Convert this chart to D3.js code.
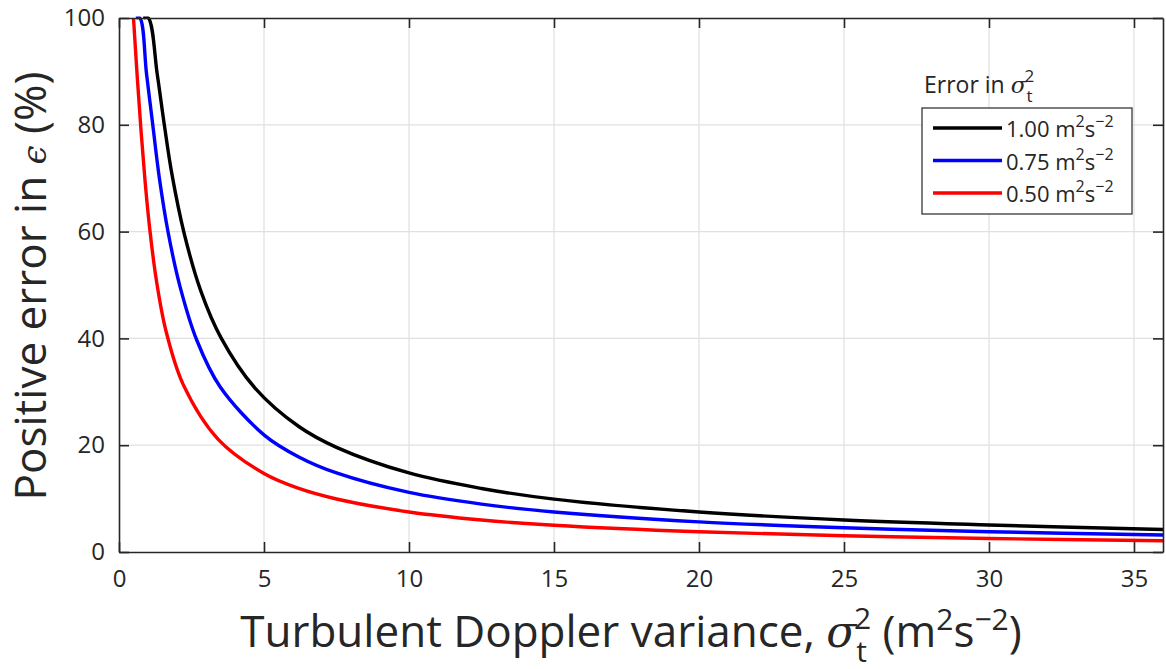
<!DOCTYPE html>
<html>
<head>
<meta charset="utf-8">
<script src="https://cdn.jsdelivr.net/npm/d3@7"></script>
<style>
  body { margin: 0; background: #fff; }
  text { font-family: "Open Sans", "DejaVu Sans", sans-serif; fill: #262626; }
</style>
</head>
<body>
<div id="chart"></div>
<script>
// values
const xTicks = [0, 5, 10, 15, 20, 25, 30, 35];
const yTicks = [0, 20, 40, 60, 80, 100];

const blackX = [0.84, 1.01, 1.32, 1.56, 1.82, 2.25, 2.82, 3.51, 4.69, 6.2, 7.5, 10, 12.5, 15, 20, 25, 30, 36];
const blackY = [100, 100, 89.4, 80.1, 70.9, 59.6, 48.9, 40.2, 30.7, 23.5, 19.6, 14.8, 11.9, 9.9, 7.5, 6.0, 5.07, 4.2];
const blueX = [0.59, 0.72, 0.95, 1.16, 1.39, 1.70, 2.10, 2.68, 3.48, 5.03, 6.2, 7.5, 10, 12.5, 15, 20, 25, 30, 36];
const blueY = [100, 100, 89.5, 80.2, 70.1, 59.7, 49.8, 39.7, 31.0, 21.8, 17.8, 14.8, 11.15, 8.96, 7.5, 5.65, 4.54, 3.8, 3.18];
const redX = [0.5, 0.63, 0.76, 0.90, 1.05, 1.28, 1.62, 2.22, 3.42, 5, 6.2, 7.5, 10, 12.5, 15, 20, 25, 30, 36];
const redY = [100, 88.9, 78.9, 69.4, 61, 51.2, 41.4, 31.3, 21.1, 14.7, 11.9, 9.93, 7.5, 6.0, 5.0, 3.78, 3.04, 2.53, 2.11];

const seriesNames = ["1.00", "0.75", "0.50"];
const seriesColors = ["#000000", "#0000ff", "#ff0000"];

const width = 1166, height = 669,
    margin = ({ top: 18, right: 3, bottom: 117, left: 119 });

const svg = d3.select("#chart")
    .append("svg")
    .attr("width", width)
    .attr("height", height);

let x = d3.scaleLinear()
    .domain([0, 36])
    .range([margin.left, width - margin.right]);

let y = d3.scaleLinear()
    .domain([0, 100])
    .range([height - margin.bottom, margin.top]);

// grid
svg.append("g")
    .selectAll("line")
    .data(xTicks.filter(d => d > 0))
    .join("line")
    .attr("x1", d => x(d)).attr("x2", d => x(d))
    .attr("y1", y(0)).attr("y2", y(100))
    .attr("stroke", "#e0e0e0").attr("stroke-width", 1.2);

svg.append("g")
    .selectAll("line")
    .data(yTicks.filter(d => d > 0 && d < 100))
    .join("line")
    .attr("x1", x(0)).attr("x2", x(36))
    .attr("y1", d => y(d)).attr("y2", d => y(d))
    .attr("stroke", "#e0e0e0").attr("stroke-width", 1.2);

// curves
let line = d3.line()
    .x(d => x(d[0]))
    .y(d => y(d[1]))
    .curve(d3.curveCatmullRom.alpha(0.5));

const series = [
    d3.zip(blackX, blackY),
    d3.zip(blueX, blueY),
    d3.zip(redX, redY)
];

svg.append("defs").append("clipPath").attr("id", "clip")
    .append("rect")
    .attr("x", x(0)).attr("y", y(100) - 1.5)
    .attr("width", x(36) - x(0)).attr("height", y(0) - y(100) + 1.5);

svg.append("g")
    .attr("clip-path", "url(#clip)")
    .selectAll("path")
    .data(series)
    .join("path")
    .attr("d", line)
    .attr("fill", "none")
    .attr("stroke", (d, i) => seriesColors[i])
    .attr("stroke-width", 3.4);

// axes (box with inward ticks)
const axisColor = "#262626";
const tickLen = 10;

svg.append("g")
    .attr("transform", `translate(0,${y(0)})`)
    .call(d3.axisBottom(x).tickValues(xTicks).tickSizeInner(-tickLen).tickSizeOuter(0).tickPadding(18))
    .call(g => g.selectAll("text").attr("font-size", 24).attr("fill", axisColor).style("font-family", "Open Sans"));

svg.append("g")
    .attr("transform", `translate(0,${y(100)})`)
    .call(d3.axisTop(x).tickValues(xTicks).tickSizeInner(-tickLen).tickSizeOuter(0).tickFormat(""));

svg.append("g")
    .attr("transform", `translate(${x(0)},0)`)
    .call(d3.axisLeft(y).tickValues(yTicks).tickSizeInner(-tickLen).tickSizeOuter(0).tickPadding(14))
    .call(g => g.selectAll("text").attr("font-size", 24).attr("fill", axisColor).style("font-family", "Open Sans"));

svg.append("g")
    .attr("transform", `translate(${x(36)},0)`)
    .call(d3.axisRight(y).tickValues(yTicks).tickSizeInner(-tickLen).tickSizeOuter(0).tickFormat(""));

svg.selectAll(".domain, .tick line")
    .attr("stroke", axisColor)
    .attr("stroke-width", 1.6);

// axis labels
const xl = svg.append("text")
    .attr("x", 631)
    .attr("y", 647)
    .attr("text-anchor", "middle")
    .attr("font-size", 44);
xl.append("tspan").text("Turbulent Doppler variance, ");
xl.append("tspan").text("σ").attr("font-style", "italic").style("font-family", "DejaVu Serif");
xl.append("tspan").text("t").attr("font-size", 30).attr("dy", 15);
xl.append("tspan").text("2").attr("font-size", 30).attr("dx", -13).attr("dy", -33);
xl.append("tspan").text(" (m").attr("dy", 18);
xl.append("tspan").text("2").attr("font-size", 30).attr("dy", -17);
xl.append("tspan").text("s").attr("dy", 17);
xl.append("tspan").text("−2").attr("font-size", 30).attr("dy", -17);
xl.append("tspan").text(")").attr("dy", 17);

const yl = svg.append("text")
    .attr("transform", "translate(46,286) rotate(-90)")
    .attr("text-anchor", "middle")
    .attr("font-size", 44);
yl.append("tspan").text("Positive error in ");
yl.append("tspan").text("ϵ").attr("font-style", "italic").attr("font-size", 34).style("font-family", "DejaVu Serif");
yl.append("tspan").text(" (%)");

// legend
const lt = svg.append("text")
    .attr("x", 924)
    .attr("y", 93)
    .attr("font-size", 23);
lt.append("tspan").text("Error in ");
lt.append("tspan").text("σ").attr("font-style", "italic").style("font-family", "DejaVu Serif");
lt.append("tspan").text("t").attr("font-size", 17).attr("dy", 9);
lt.append("tspan").text("2").attr("font-size", 17).attr("dx", -8).attr("dy", -20);

svg.append("rect")
    .attr("x", 922).attr("y", 108)
    .attr("width", 210).attr("height", 106)
    .attr("fill", "#fff")
    .attr("stroke", axisColor)
    .attr("stroke-width", 1.2);

const items = svg.append("g")
    .selectAll("g")
    .data(seriesNames)
    .join("g")
    .attr("transform", (d, i) => `translate(0,${128 + i * 32.5})`);

items.append("line")
    .attr("x1", 933).attr("x2", 1002)
    .attr("stroke", (d, i) => seriesColors[i])
    .attr("stroke-width", 3.4);

const it = items.append("text")
    .attr("x", 1006)
    .attr("y", 9)
    .attr("font-size", 22);
it.append("tspan").text(d => d + " m");
it.append("tspan").text("2").attr("font-size", 16).attr("dy", -10);
it.append("tspan").text("s").attr("dy", 10);
it.append("tspan").text("−2").attr("font-size", 16).attr("dy", -10);
</script>
</body>
</html>
